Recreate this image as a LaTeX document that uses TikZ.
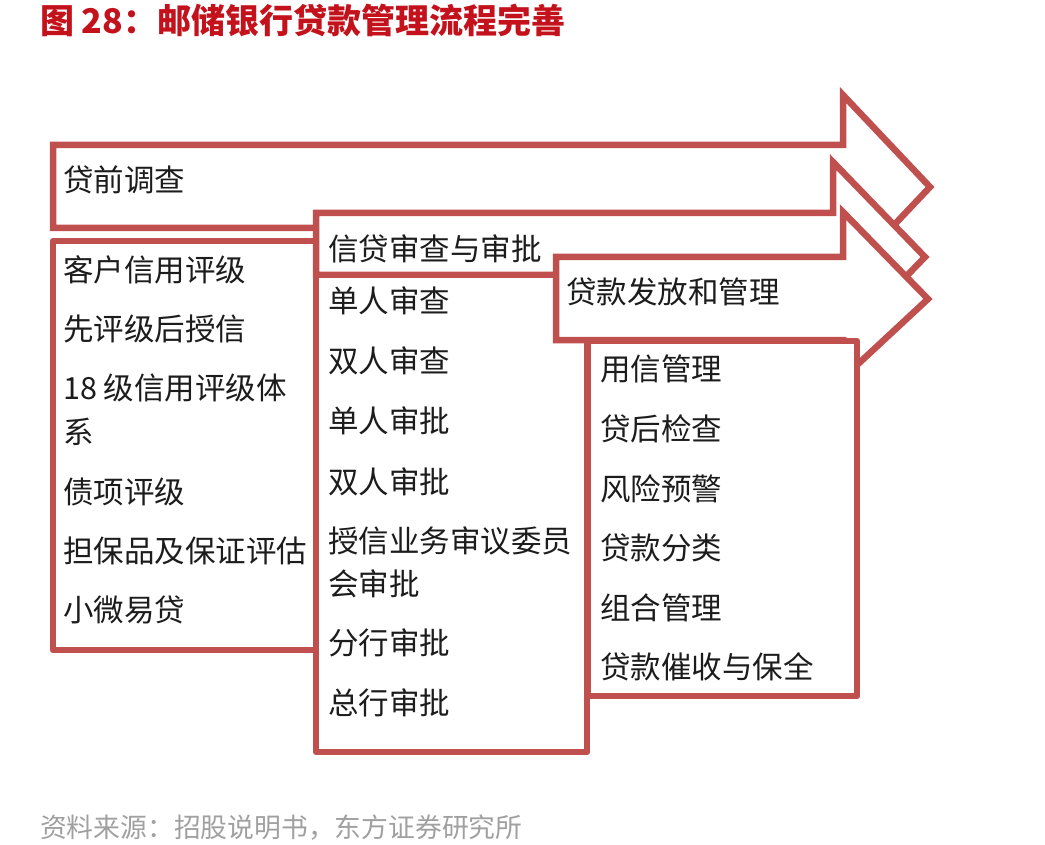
\documentclass[tikz,border=0pt]{standalone}
\usepackage{fontspec}
\setmainfont{Noto Sans CJK SC}
\definecolor{bord}{RGB}{192,80,77}
\definecolor{ttl}{RGB}{196,18,28}
\definecolor{txt}{RGB}{28,28,28}
\definecolor{srcc}{RGB}{160,160,160}
\begin{document}
\begin{tikzpicture}[x=1pt,y=-1pt,
  shp/.style={draw=bord,fill=white,line width=6.5pt,line join=miter},
  bx/.style={draw=bord,fill=white,line width=6.5pt,line join=round},
  lbl/.style={anchor=west,inner sep=0pt,text=txt,font=\fontsize{30.5}{36}\selectfont},
]
\useasboundingbox[fill=white] (0,0) rectangle (1045,845);
% title
\node[anchor=west,inner sep=0pt,text=ttl,font=\fontsize{34}{40}\selectfont\bfseries] (title) at (40,20) {图 28：邮储银行贷款管理流程完善};
% arrow 1
\draw[shp] (53,145) -- (843,145) -- (843,95) -- (930,187) -- (843,279) -- (843,228) -- (53,228) -- cycle;
\node[lbl] (a1) at (63,180) {贷前调查};
% box 1
\draw[bx] (53,241) rectangle (316,650);
\node[lbl] (b11) at (63,270) {客户信用评级};
\node[lbl] (b12) at (63,329) {先评级后授信};
\node[lbl] (b13) at (63,388) {18 级信用评级体};
\node[lbl] (b13b) at (63,432) {系};
\node[lbl] (b14) at (63,492) {债项评级};
\node[lbl] (b15) at (63,551) {担保品及保证评估};
\node[lbl] (b16) at (63,610) {小微易贷};
% arrow 2
\draw[shp] (316,213) -- (833,213) -- (833,162) -- (925,257) -- (833,352) -- (833,275) -- (316,275) -- cycle;
\node[lbl] (a2) at (328,249) {信贷审查与审批};
% box 2
\draw[bx] (316,275) rectangle (587,752);
\node[lbl] (b21) at (328,301) {单人审查};
\node[lbl] (b22) at (328,361) {双人审查};
\node[lbl] (b23) at (328,421) {单人审批};
\node[lbl] (b24) at (328,482) {双人审批};
\node[lbl] (b25) at (328,541) {授信业务审议委员};
\node[lbl] (b25b) at (328,584) {会审批};
\node[lbl] (b26) at (328,643) {分行审批};
\node[lbl] (b27) at (328,703) {总行审批};
% arrow 3
\draw[shp] (556,257) -- (843,257) -- (843,212) -- (928,299) -- (843,378) -- (843,340) -- (556,340) -- cycle;
\node[lbl] (a3) at (566,292) {贷款发放和管理};
% box 4
\draw[bx] (588,341) rectangle (857,696);
\node[lbl] (b41) at (600,369) {用信管理};
\node[lbl] (b42) at (600,429) {贷后检查};
\node[lbl] (b43) at (600,489) {风险预警};
\node[lbl] (b44) at (600,548) {贷款分类};
\node[lbl] (b45) at (600,608) {组合管理};
\node[lbl] (b46) at (600,667) {贷款催收与保全};
% source
\node[anchor=west,inner sep=0pt,text=srcc,font=\fontsize{26.8}{32}\selectfont] (src) at (40,828) {资料来源：招股说明书，东方证券研究所};
\end{tikzpicture}
\end{document}
